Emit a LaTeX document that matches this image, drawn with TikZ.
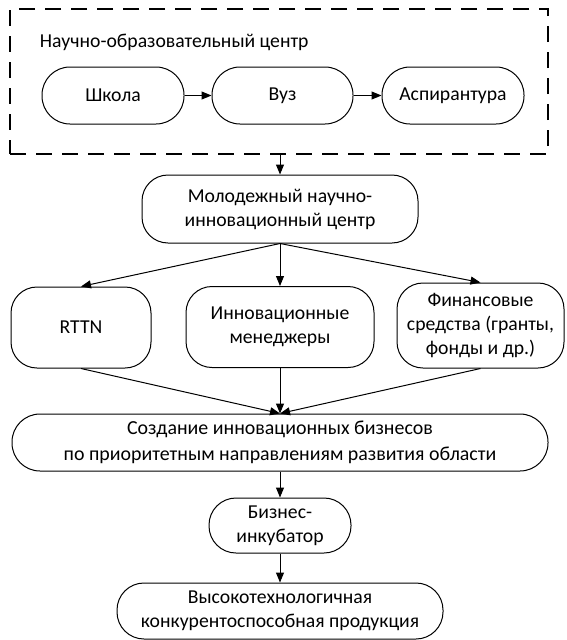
\documentclass[tikz,border=0pt]{standalone}
\usepackage{fontspec}
\setmainfont{Carlito}
\usetikzlibrary{arrows.meta}

\begin{document}
\begin{tikzpicture}[x=1pt, y=-1pt, line width=1pt, >={Triangle[length=10pt,width=8pt]},
                    main node/.style={draw, rounded corners=26pt, align=center, inner sep=0pt,
                                      font=\fontsize{19.7}{24}\selectfont},
                    frame node/.style={draw, dashed, line width=2pt, dash pattern=on 16pt off 10pt,
                                       inner sep=0pt, minimum width=538pt, minimum height=145pt}]
  \useasboundingbox (0,0) rectangle (566,640);

  \node[frame node] (0) at (279,81.5) {};
  \node[anchor=west, font=\fontsize{19.7}{24}\selectfont] (t) at (36,42) {Научно-образовательный центр};

  \node[main node, minimum width=142pt, minimum height=57pt, rounded corners=28pt] (1) at (113,95.5) {Школа};
  \node[main node, minimum width=141pt, minimum height=57pt, rounded corners=28pt] (2) at (282.5,95.5) {Вуз};
  \node[main node, minimum width=142pt, minimum height=57pt, rounded corners=28pt] (3) at (453,95.5) {Аспирантура};

  \node[main node, minimum width=276pt, minimum height=68pt] (4) at (280,209) {Молодежный научно-\\инновационный центр};

  \node[main node, minimum width=140pt, minimum height=81pt] (5) at (81,327.5) {RTTN};
  \node[main node, minimum width=188pt, minimum height=81pt] (6) at (280,327) {Инновационные\\менеджеры};
  \node[main node, minimum width=167pt, minimum height=85pt] (7) at (480.5,325.5) {Финансовые\\средства (гранты,\\фонды и др.)};

  \node[main node, minimum width=536pt, minimum height=57pt, rounded corners=28pt,
        font=\fontsize{19.9}{26}\selectfont] (8) at (280,442.5) {Создание инновационных бизнесов\\по приоритетным направлениям развития области};
  \node[main node, minimum width=142pt, minimum height=55pt, rounded corners=27pt] (9) at (280,525.5) {Бизнес-\\инкубатор};
  \node[main node, minimum width=326pt, minimum height=56pt, rounded corners=27pt] (10) at (280,611) {Высокотехнологичная\\конкурентоспособная продукция};

  \path[->]
    (1) edge (2)
    (2) edge (3)
    (0.south -| 4.north) edge (4)

    (4.south) edge (5.north)
              edge (6.north)
              edge (7.north)

    (5.south) edge (8.north)
    (6.south) edge (8.north)
    (7.south) edge (8.north)

    (8) edge (9)
    (9) edge (10)
    ;

\end{tikzpicture}
\end{document}
